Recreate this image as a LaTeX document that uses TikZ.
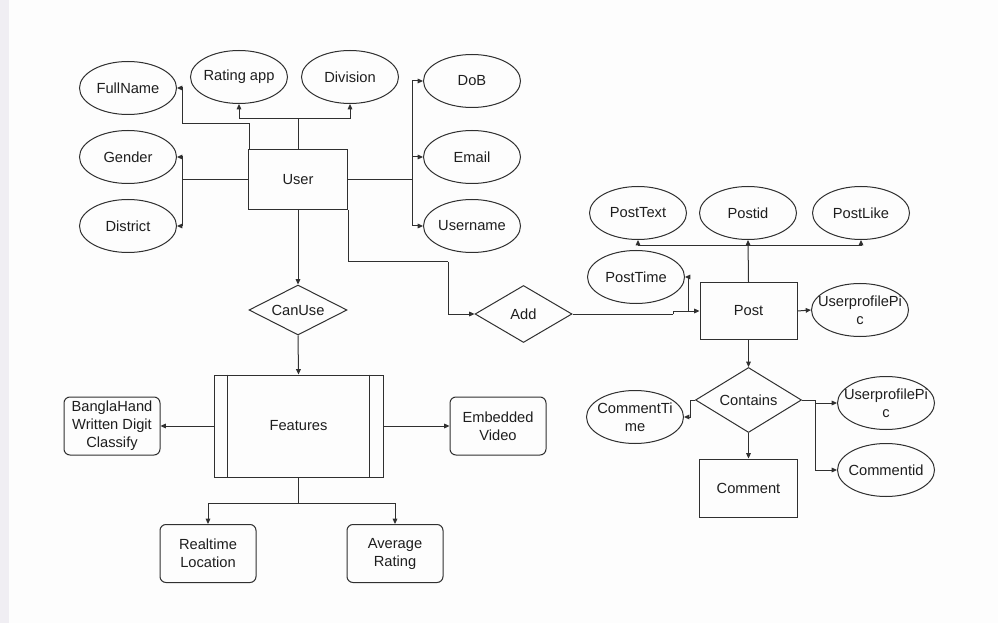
\documentclass[tikz,border=0pt]{standalone}
\usepackage{fontspec}
\setmainfont{Liberation Sans}
\usetikzlibrary{shapes.geometric,arrows.meta}
\definecolor{ink}{HTML}{1E1E1E}
\definecolor{edge}{HTML}{303030}
\definecolor{strip}{HTML}{F0EEF3}
\definecolor{paper}{HTML}{FDFDFD}
\begin{document}
\begin{tikzpicture}[x=0.75pt,y=-0.75pt,
  every node/.style={font=\fontsize{11}{13.5}\selectfont, text=ink},
  attr/.style={ellipse,draw=edge,line width=0.75pt,minimum width=72.75pt,minimum height=39.75pt,inner xsep=-16pt,inner ysep=0pt,align=center},
  ent/.style={rectangle,draw=edge,line width=0.75pt,inner sep=0pt,align=center},
  rel/.style={diamond,aspect=2,draw=edge,line width=0.75pt,inner sep=0pt,align=center},
  rbox/.style={rectangle,rounded corners=4.5pt,draw=edge,line width=0.75pt,minimum width=72pt,minimum height=43.5pt,inner sep=0pt,align=center},
  con/.style={line width=0.75pt,draw=edge},
  arr/.style={con,-{Triangle[length=4pt,width=3.5pt]}}]
% background
\fill[paper] (0,0) rectangle (998,623);
\fill[strip] (0,0) rectangle (9,623);
\useasboundingbox (0,0) rectangle (998,623);

% User and attributes
\node[ent,minimum width=74.25pt,minimum height=45pt] (user) at (298,180) {User};
\node[attr] (fullname) at (128,88) {FullName};
\node[attr] (rating) at (239,77) {Rating app};
\node[attr] (division) at (350,77) {Division};
\node[attr] (dob) at (472,81) {DoB};
\node[attr] (gender) at (128,157) {Gender};
\node[attr] (email) at (472,157) {Email};
\node[attr] (district) at (128,226) {District};
\node[attr] (username) at (472,226) {Username};

\coordinate (flA) at (249,124);
\coordinate (flB) at (182,124);
\draw[con] ([xshift=0.75pt]user.north west) -- (flA) -- (flB);
\draw[arr] (flB) |- (fullname.east);

\coordinate (tb) at (298,119);
\draw[con] (user.north) -- (tb);
\draw[arr] (tb) -| (rating.south);
\draw[arr] (tb) -| (division.south);

\coordinate (lb) at (182,180);
\draw[con] (user.west) -- (lb);
\draw[arr] (lb) |- (gender.east);
\draw[arr] (lb) |- (district.east);

\coordinate (rb) at (412,180);
\draw[con] (user.east) -- (rb);
\draw[arr] (rb) |- (dob.west);
\draw[arr] (rb) |- (email.west);
\draw[arr] (rb) |- (username.west);

% CanUse and Features
\node[rel,minimum width=73.5pt,minimum height=37.5pt] (canuse) at (298,310) {CanUse};
\draw[arr] (user.south) -- (canuse.north);
\node[ent,minimum width=126.75pt,minimum height=76.5pt] (feat) at (298.5,426) {Features};
\draw[con] ([xshift=10.5pt]feat.north west) -- ([xshift=10.5pt]feat.south west);
\draw[con] ([xshift=-10.5pt]feat.north east) -- ([xshift=-10.5pt]feat.south east);
\draw[arr] (canuse.south) -- (feat.north);

\node[rbox] (bangla) at (112,426) {BanglaHand\\Written Digit\\Classify};
\node[rbox] (embed) at (498,426) {Embedded\\Video};
\node[rbox] (realtime) at (208,553.5) {Realtime\\Location};
\node[rbox] (avg) at (395,553.5) {Average\\Rating};
\draw[arr] (feat.west) -- (bangla.east);
\draw[arr] (feat.east) -- (embed.west);
\coordinate (fb) at (298.5,503);
\draw[con] (feat.south) -- (fb);
\draw[arr] (fb) -| (realtime.north);
\draw[arr] (fb) -| (avg.north);

% Add and Post
\node[rel,minimum width=72.75pt,minimum height=42.75pt] (add) at (523.5,314) {Add};
\coordinate (ua) at (448,262);
\draw[con] (user.south east) |- (ua);
\draw[arr] (ua) |- (add.west);

\node[ent,minimum width=72.75pt,minimum height=42pt] (post) at (748.5,311) {Post};
\coordinate (aj) at (673,314);
\draw[con] (add.east) -- (aj);
\draw[arr] (aj) |- (post.west);

\node[attr] (posttime) at (636,277) {PostTime};
\coordinate (pj) at (688,311);
\draw[arr] (pj) |- (posttime.east);

\node[attr] (posttext) at (638,213) {PostText};
\node[attr] (postid) at (748,213) {Postid};
\node[attr] (postlike) at (861,213) {PostLike};
\coordinate (pb) at (748.5,246);
\draw[arr] (post.north) -- (postid.south);
\draw[arr] (pb) -| (posttext.south);
\draw[arr] (pb) -| (postlike.south);

\node[attr] (upp1) at (860,310) {UserprofilePi\\c};
\draw[arr] (post.east) -- (upp1.west);

% Contains and Comment
\node[rel,minimum width=79.5pt,minimum height=48.75pt] (contains) at (748.5,400) {Contains};
\draw[arr] (post.south) -- (contains.north);
\node[ent,minimum width=73.5pt,minimum height=43.5pt] (comment) at (748.5,488) {Comment};
\draw[arr] (contains.south) -- (comment.north);

\node[attr] (ctime) at (635,417) {CommentTi\\me};
\coordinate (cl) at (690,400);
\draw[con] (contains.west) -- (cl);
\draw[arr] (cl) |- (ctime.east);

\node[attr] (upp2) at (886,403) {UserprofilePi\\c};
\node[attr] (commentid) at (886,470) {Commentid};
\coordinate (cr) at (815,400);
\draw[con] (contains.east) -- (cr);
\draw[arr] (cr) |- (upp2.west);
\draw[arr] (cr) |- (commentid.west);
\end{tikzpicture}
\end{document}
